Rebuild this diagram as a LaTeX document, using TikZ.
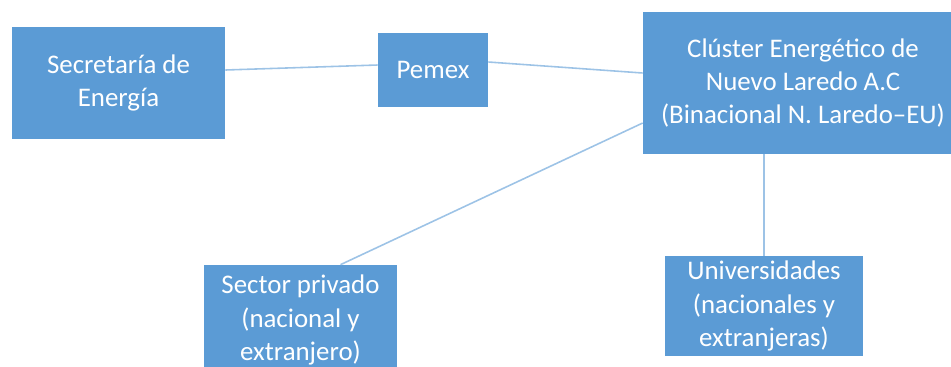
\documentclass[tikz,border=0pt]{standalone}
\usepackage{fontspec}
\setmainfont{Carlito}
\usetikzlibrary{calc}
\definecolor{boxblue}{HTML}{5B9BD5}
\definecolor{linkblue}{HTML}{9DC3E6}
\tikzset{
  orgbox/.style={fill=boxblue, text=white, align=center, inner sep=0pt,
    font=\fontsize{15.3}{19}\selectfont},
  link/.style={draw=linkblue, line width=0.9pt}
}
\begin{document}
\begin{tikzpicture}[x=0.02cm,y=-0.02cm]
\useasboundingbox (0,0) rectangle (951,366);
\node[orgbox, minimum width=4.26cm, minimum height=2.24cm] (sec) at (118.5,83) {Secretaría de\\Energía};
\node[orgbox, minimum width=2.2cm, minimum height=1.48cm] (pem) at (433,70) {Pemex};
\node[orgbox, minimum width=6.4cm, minimum height=2.84cm] (clu) at (803,83) {Clúster Energético de\\Nuevo Laredo A.C\\(Binacional N. Laredo--EU)};
\node[orgbox, minimum width=3.86cm, minimum height=2.2cm] (sp) at (300.5,320) {Sector privado\\(nacional y\\extranjero)};
\node[orgbox, minimum width=3.96cm, minimum height=2cm] (uni) at (764,306) {Universidades\\(nacionales y\\extranjeras)};
\path[link] (sec.east |- pem.west) -- ($(pem.west)+(0,-5)$);
\path[link] ($(pem.east)+(0,-8)$) -- ($(clu.west)+(0,-10)$);
\path[link] ($(clu.west)+(0,40)$) -- ($(sp.north)+(40,0)$);
\path[link] (clu.south -| uni.north) -- (uni.north);
\end{tikzpicture}
\end{document}
